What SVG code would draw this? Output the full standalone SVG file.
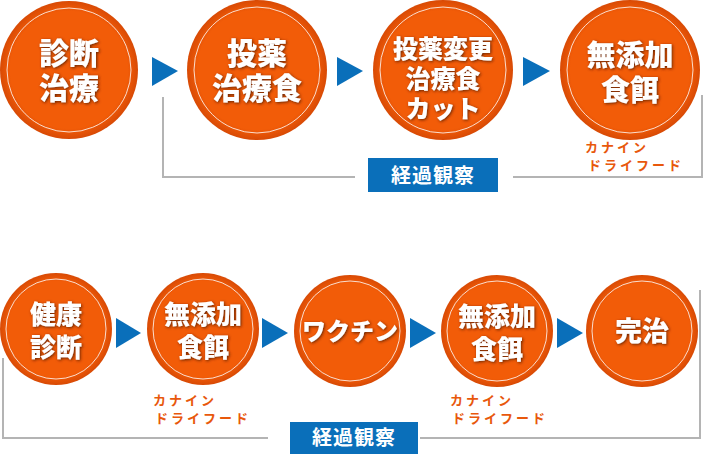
<svg xmlns="http://www.w3.org/2000/svg" width="703" height="454" viewBox="0 0 703 454">
<defs>
<radialGradient id="g" cx="0.5" cy="0.5" r="0.5"><stop offset="0.85" stop-color="#f25c08"/><stop offset="1" stop-color="#d84a05"/></radialGradient>
<filter id="sh" x="-20%" y="-20%" width="140%" height="140%"><feDropShadow dx="1" dy="1" stdDeviation="1.5" flood-color="#5a1a00" flood-opacity="0.9"/></filter>
<style>
.c{fill:url(#g)}
.r{fill:none;stroke:#fff;stroke-width:1;opacity:0.8}
.t{fill:#fff;font-family:"Noto Sans CJK JP",sans-serif;font-weight:900;text-anchor:middle;filter:url(#sh)}
.a{fill:#0a6fba}
.l{fill:none;stroke:#b4b4b4;stroke-width:2}
.b{fill:#0a6fba}
.bt{fill:#fff;font-family:"Noto Sans CJK JP",sans-serif;font-weight:bold;font-size:20px;text-anchor:middle;letter-spacing:1px}
.o{fill:#e8580c;font-family:"Noto Sans CJK JP",sans-serif;font-weight:bold;font-size:13px;letter-spacing:3px}
</style>
</defs>
<g id="connectors">
<path class="l" d="M163,97 V177 H355"/>
<path class="l" d="M513,177 H702 V95"/>
<path class="l" d="M3,358 V438 H268"/>
<path class="l" d="M420,438 H700 V290"/>
<polygon class="a" points="152,57 178,71 152,86"/>
<polygon class="a" points="337,57 363,71 337,86"/>
<polygon class="a" points="523,57 550,71 523,86"/>
<polygon class="a" points="116,318 141,333 116,348"/>
<polygon class="a" points="262,318 288,333 262,348"/>
<polygon class="a" points="410,318 436,333 410,348"/>
<polygon class="a" points="557,318 583,333 557,348"/>
</g>
<g id="n1"><circle class="c" cx="69" cy="70" r="69"/><circle class="r" cx="69" cy="70" r="62"/><text class="t" x="69" y="64" font-size="30">診断</text><text class="t" x="69" y="99" font-size="30">治療</text></g>
<g id="n2"><circle class="c" cx="257" cy="70" r="70"/><circle class="r" cx="257" cy="70" r="63"/><text class="t" x="257" y="64" font-size="30">投薬</text><text class="t" x="257" y="99" font-size="30">治療食</text></g>
<g id="n3"><circle class="c" cx="443" cy="70" r="70"/><circle class="r" cx="443" cy="70" r="63"/><text class="t" x="443" y="58" font-size="25">投薬変更</text><text class="t" x="443" y="88" font-size="25">治療食</text><text class="t" x="443" y="118" font-size="25">カット</text></g>
<g id="n4"><circle class="c" cx="630" cy="70" r="70"/><circle class="r" cx="630" cy="70" r="63"/><text class="t" x="630" y="66" font-size="29">無添加</text><text class="t" x="630" y="101" font-size="29">食餌</text></g>
<g id="o1"><text class="o" x="585" y="152">カナイン</text><text class="o" x="588" y="170">ドライフード</text></g>
<g id="k1"><rect class="b" x="368" y="158" width="130" height="34"/><text class="bt" x="433" y="183">経過観察</text></g>
<g id="m1"><circle class="c" cx="56" cy="329" r="56"/><circle class="r" cx="56" cy="329" r="50"/><text class="t" x="56" y="324" font-size="26">健康</text><text class="t" x="56" y="357" font-size="26">診断</text></g>
<g id="m2"><circle class="c" cx="203" cy="329" r="56"/><circle class="r" cx="203" cy="329" r="50"/><text class="t" x="203" y="324" font-size="26">無添加</text><text class="t" x="203" y="357" font-size="26">食餌</text></g>
<g id="m3"><circle class="c" cx="350" cy="331" r="56"/><circle class="r" cx="350" cy="331" r="50"/><text class="t" x="350" y="340" font-size="24">ワクチン</text></g>
<g id="m4"><circle class="c" cx="497" cy="331" r="56"/><circle class="r" cx="497" cy="331" r="50"/><text class="t" x="497" y="326" font-size="26">無添加</text><text class="t" x="497" y="359" font-size="26">食餌</text></g>
<g id="m5"><circle class="c" cx="642" cy="331" r="56"/><circle class="r" cx="642" cy="331" r="50"/><text class="t" x="642" y="341" font-size="27">完治</text></g>
<g id="o2"><text class="o" x="153" y="405">カナイン</text><text class="o" x="155" y="423">ドライフード</text></g>
<g id="o3"><text class="o" x="450" y="405">カナイン</text><text class="o" x="452" y="423">ドライフード</text></g>
<g id="k2"><rect class="b" x="290" y="422" width="128" height="32"/><text class="bt" x="354" y="445">経過観察</text></g>
</svg>
